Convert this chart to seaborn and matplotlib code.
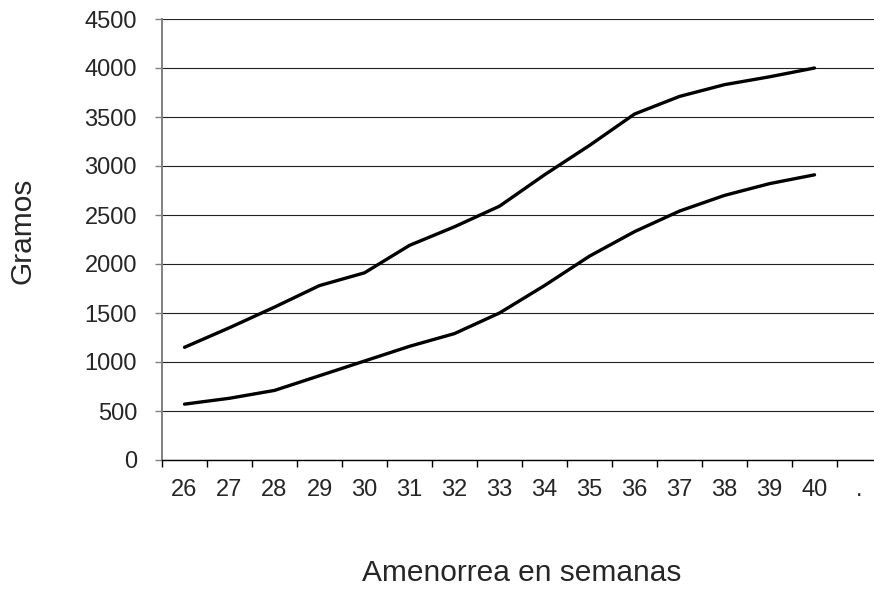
import pandas as pd
import matplotlib
matplotlib.use("Agg")
import matplotlib.pyplot as plt
import seaborn as sns

# -------------------------------
# Data
# -------------------------------

weeks = [26, 27, 28, 29, 30, 31, 32, 33, 34, 35, 36, 37, 38, 39, 40]
upper = [1150, 1350, 1560, 1780, 1910, 2190, 2380, 2590, 2910, 3210, 3530, 3710, 3830, 3910, 4000]
lower = [570, 630, 710, 860, 1010, 1160, 1290, 1500, 1780, 2080, 2330, 2540, 2700, 2820, 2910]

x_ticks = [26, 27, 28, 29, 30, 31, 32, 33, 34, 35, 36, 37, 38, 39, 40, 41]
x_labels = ["26", "27", "28", "29", "30", "31", "32", "33", "34", "35", "36", "37", "38", "39", "40", "."]
y_ticks = [0, 500, 1000, 1500, 2000, 2500, 3000, 3500, 4000, 4500]

df = pd.DataFrame({
    "semana": weeks + weeks,
    "gramos": upper + lower,
    "curva": ["superior"] * len(weeks) + ["inferior"] * len(weeks),
})

# -------------------------------
# Style
# -------------------------------

sns.set_style("white")
plt.rcParams['font.family'] = ['Liberation Sans', 'DejaVu Sans']

fig = plt.figure(figsize=(8.74, 5.92), dpi=100)
ax = fig.add_axes([162 / 874, 132 / 592, 720 / 874, 441 / 592])

sns.lineplot(
    data=df, x="semana", y="gramos", hue="curva",
    palette={"superior": "black", "inferior": "black"},
    linewidth=2.4, legend=False, ax=ax
)

ax.set_xlim(25.5, 41.5)
ax.set_ylim(0, 4500)

# horizontal grid lines
ax.set_yticks(y_ticks)
ax.yaxis.grid(True, color="#222222", linewidth=0.8)
ax.xaxis.grid(False)
ax.set_axisbelow(True)

# x ticks: labels in the middle, tick marks on the boundaries
ax.set_xticks(x_ticks)
ax.set_xticklabels(x_labels)
ax.set_xticks([t - 0.5 for t in x_ticks] + [41.5], minor=True)
ax.tick_params(axis="x", which="major", length=0, pad=14, labelsize=17)
ax.tick_params(axis="x", which="minor", length=5, width=1, color="black", direction="out", bottom=True)
ax.tick_params(axis="y", which="major", length=5, width=1, color="#808080", direction="out",
               pad=13, labelsize=17, left=True)

for s in ["top", "right"]:
    ax.spines[s].set_visible(False)
ax.spines["left"].set_color("#808080")
ax.spines["left"].set_linewidth(1.4)
ax.spines["bottom"].set_color("black")
ax.spines["bottom"].set_linewidth(1.0)

ax.set_xlabel("Amenorrea en semanas", fontsize=21.5)
ax.set_ylabel("Gramos", fontsize=21.5)
ax.xaxis.set_label_coords(0.5, -0.2245)
ax.yaxis.set_label_coords(-0.175, 0.52)

fig.savefig("out.png", dpi=100)
